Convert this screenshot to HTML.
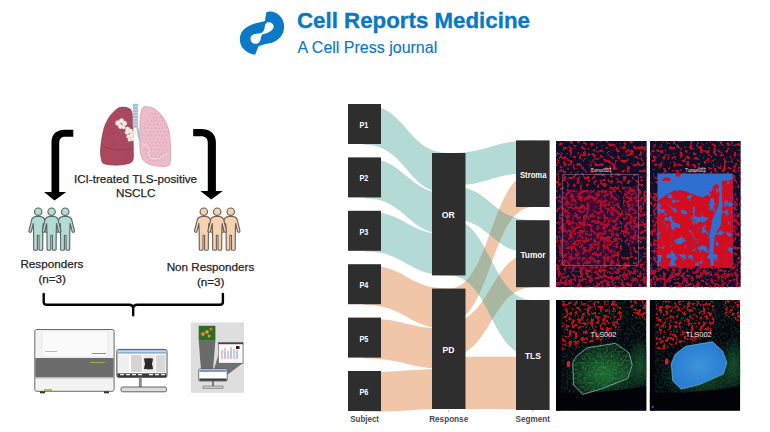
<!DOCTYPE html>
<html><head><meta charset="utf-8">
<style>
html,body{margin:0;padding:0;background:#fff;}
body{width:770px;height:432px;overflow:hidden;position:relative;font-family:"Liberation Sans",sans-serif;}
svg{position:absolute;left:0;top:0;}
.bl{font-family:"Liberation Sans",sans-serif;font-weight:bold;font-size:9px;fill:#fff;text-anchor:middle;}
.ax{font-family:"Liberation Sans",sans-serif;font-weight:bold;font-size:8.8px;fill:#4a4a4a;text-anchor:middle;}
.lab{font-family:"Liberation Sans",sans-serif;fill:#e8e8e8;text-anchor:middle;}
.t{font-family:"Liberation Sans",sans-serif;fill:#262626;stroke:#262626;stroke-width:0.25px;text-anchor:middle;}
</style></head><body>
<svg width="770" height="432" viewBox="0 0 770 432">
<!-- header -->
<path fill="#0b7ac6" fill-rule="evenodd" d="M266.3,12.4 C269,10.6 276,11 281.1,17.3 C284.5,21.5 284.6,28 283.4,31.7 C281.5,37.5 276,41.5 271.8,42.7 C267,44 262,44.5 258.5,46.2 L255.1,54.8 C251,54.5 244,51 241.6,46.2 C239,41.5 239.3,34.5 242.9,30.5 C246,26.5 252,24 259.1,22.5 L264.9,21 Z
M267.2,22.5 C271,21.8 274,24 273.6,27.1 C273.2,30.5 268.5,33 263.8,34 C261,34.6 261.5,36 260.9,38 C260.5,41.5 258.5,43.8 255.5,43.8 C252.5,43.8 250.2,41.5 250.5,38.1 C250.8,35 254,33.8 259.1,33.4 C262,33 264,31.5 264.5,28.5 C264.8,25 265.2,23 267.2,22.5 Z"/>
<text x="297" y="28" style="font-family:'Liberation Sans',sans-serif;font-weight:bold;font-size:22.3px;fill:#0b78c4;stroke:#0b78c4;stroke-width:0.35px">Cell Reports Medicine</text>
<text x="297.6" y="52.7" style="font-family:'Liberation Sans',sans-serif;font-size:16px;fill:#0b78c4;stroke:#0b78c4;stroke-width:0.15px">A Cell Press journal</text>

<!-- lungs -->
<g>
<path d="M120.8,107.3 C125.5,106.6 129.5,108 131.3,110.4 C132.5,113 132.8,118 132.9,126 L133.2,140 L133.4,157.3 C133.2,160.5 132,162.5 129.7,163.2 C123,165 117,165.4 112.4,165 C107,164.6 103.5,164 102.2,162.5 C100.8,158 100.4,154 100.5,150 C100.8,145 101.5,140 102.4,135 C103.8,128.5 105.2,124 106.8,121.5 C108.8,117.5 111.2,114 113.8,111.8 C116,109.5 118.3,107.8 120.8,107.3 Z" fill="#a9485e" stroke="#943c52" stroke-width="0.7"/>
<circle cx="122.4" cy="130.3" r="0.6" fill="#8e3a50" opacity="0.7"/><circle cx="123.2" cy="150.4" r="0.6" fill="#8e3a50" opacity="0.7"/><circle cx="109.5" cy="135.7" r="0.6" fill="#8e3a50" opacity="0.7"/><circle cx="119.8" cy="128.6" r="0.6" fill="#8e3a50" opacity="0.7"/><circle cx="112.9" cy="128.3" r="0.6" fill="#8e3a50" opacity="0.7"/><circle cx="113.1" cy="143.0" r="0.6" fill="#8e3a50" opacity="0.7"/><circle cx="111.0" cy="131.6" r="0.6" fill="#8e3a50" opacity="0.7"/><circle cx="119.1" cy="150.2" r="0.6" fill="#8e3a50" opacity="0.7"/><circle cx="111.3" cy="123.6" r="0.6" fill="#8e3a50" opacity="0.7"/><circle cx="126.1" cy="124.4" r="0.6" fill="#8e3a50" opacity="0.7"/><circle cx="107.6" cy="134.6" r="0.6" fill="#8e3a50" opacity="0.7"/><circle cx="111.7" cy="129.4" r="0.6" fill="#8e3a50" opacity="0.7"/><circle cx="127.0" cy="134.8" r="0.6" fill="#8e3a50" opacity="0.7"/><circle cx="112.1" cy="145.8" r="0.6" fill="#8e3a50" opacity="0.7"/><circle cx="128.5" cy="135.5" r="0.6" fill="#8e3a50" opacity="0.7"/><circle cx="117.9" cy="121.9" r="0.6" fill="#8e3a50" opacity="0.7"/><circle cx="126.2" cy="155.6" r="0.6" fill="#8e3a50" opacity="0.7"/><circle cx="107.5" cy="126.5" r="0.6" fill="#8e3a50" opacity="0.7"/><circle cx="126.2" cy="145.4" r="0.6" fill="#8e3a50" opacity="0.7"/><circle cx="126.2" cy="130.0" r="0.6" fill="#8e3a50" opacity="0.7"/><circle cx="125.8" cy="126.1" r="0.6" fill="#8e3a50" opacity="0.7"/><circle cx="112.4" cy="133.7" r="0.6" fill="#8e3a50" opacity="0.7"/><circle cx="114.6" cy="133.3" r="0.6" fill="#8e3a50" opacity="0.7"/><circle cx="115.0" cy="161.4" r="0.6" fill="#8e3a50" opacity="0.7"/><circle cx="124.4" cy="155.5" r="0.6" fill="#8e3a50" opacity="0.7"/>
<path d="M103.5,146 C110,150 120,151 132.5,148" fill="none" stroke="#8a3348" stroke-width="0.6" opacity="0.7"/>
<path d="M118,112 C122,118 127,122 132,124" fill="none" stroke="#c0657a" stroke-width="0.5" opacity="0.6"/>
<path d="M144.7,106.5 C148,106.8 150.8,107.3 152.8,108.1 C156,109.8 158.8,112 160.9,114.6 C163.8,118 165.8,121.5 167.4,125.9 C168.8,130 169.5,133.5 169.8,137.3 C170.4,143 170.7,148 170.7,153.5 C170.7,158 170.4,161.5 169.8,164.8 C167.5,166.2 165,166.6 162.6,166.5 C158.5,166.3 154.8,165.8 151.2,164.8 C148,163.8 145.2,162.2 143.1,160 C141.2,157 140.3,153 139.9,148.6 C139.6,140 139.7,132 139.9,124.3 C140.1,118.5 140.6,113.5 141.5,109.7 C142.3,107.8 143.3,106.7 144.7,106.5 Z" fill="#edbccb" stroke="#d99aae" stroke-width="0.8"/>
<circle cx="151.8" cy="113.3" r="0.65" fill="#d995ab"/><circle cx="155.1" cy="113.9" r="0.65" fill="#d995ab"/><circle cx="158.9" cy="113.4" r="0.65" fill="#d995ab"/><circle cx="149.6" cy="116.9" r="0.65" fill="#d995ab"/><circle cx="153.4" cy="117.3" r="0.65" fill="#d995ab"/><circle cx="156.9" cy="117.3" r="0.65" fill="#d995ab"/><circle cx="160.9" cy="117.0" r="0.65" fill="#d995ab"/><circle cx="147.7" cy="121.0" r="0.65" fill="#d995ab"/><circle cx="151.6" cy="120.9" r="0.65" fill="#d995ab"/><circle cx="155.1" cy="120.4" r="0.65" fill="#d995ab"/><circle cx="158.9" cy="121.2" r="0.65" fill="#d995ab"/><circle cx="162.6" cy="121.0" r="0.65" fill="#d995ab"/><circle cx="145.8" cy="124.8" r="0.65" fill="#d995ab"/><circle cx="149.6" cy="124.3" r="0.65" fill="#d995ab"/><circle cx="153.7" cy="124.7" r="0.65" fill="#d995ab"/><circle cx="157.2" cy="124.7" r="0.65" fill="#d995ab"/><circle cx="161.0" cy="124.2" r="0.65" fill="#d995ab"/><circle cx="164.6" cy="124.1" r="0.65" fill="#d995ab"/><circle cx="144.7" cy="128.0" r="0.65" fill="#d995ab"/><circle cx="148.0" cy="127.8" r="0.65" fill="#d995ab"/><circle cx="151.8" cy="128.3" r="0.65" fill="#d995ab"/><circle cx="155.4" cy="127.9" r="0.65" fill="#d995ab"/><circle cx="158.8" cy="128.3" r="0.65" fill="#d995ab"/><circle cx="162.5" cy="128.0" r="0.65" fill="#d995ab"/><circle cx="166.8" cy="127.7" r="0.65" fill="#d995ab"/><circle cx="146.0" cy="131.6" r="0.65" fill="#d995ab"/><circle cx="150.3" cy="131.9" r="0.65" fill="#d995ab"/><circle cx="154.0" cy="131.6" r="0.65" fill="#d995ab"/><circle cx="157.3" cy="131.8" r="0.65" fill="#d995ab"/><circle cx="161.0" cy="131.4" r="0.65" fill="#d995ab"/><circle cx="164.6" cy="131.3" r="0.65" fill="#d995ab"/><circle cx="168.3" cy="132.0" r="0.65" fill="#d995ab"/><circle cx="144.0" cy="135.0" r="0.65" fill="#d995ab"/><circle cx="148.3" cy="135.5" r="0.65" fill="#d995ab"/><circle cx="151.6" cy="135.4" r="0.65" fill="#d995ab"/><circle cx="155.7" cy="135.4" r="0.65" fill="#d995ab"/><circle cx="159.3" cy="135.4" r="0.65" fill="#d995ab"/><circle cx="162.7" cy="135.4" r="0.65" fill="#d995ab"/><circle cx="166.4" cy="135.2" r="0.65" fill="#d995ab"/><circle cx="146.0" cy="138.9" r="0.65" fill="#d995ab"/><circle cx="149.9" cy="139.1" r="0.65" fill="#d995ab"/><circle cx="153.7" cy="139.0" r="0.65" fill="#d995ab"/><circle cx="157.2" cy="138.9" r="0.65" fill="#d995ab"/><circle cx="161.2" cy="139.1" r="0.65" fill="#d995ab"/><circle cx="164.6" cy="139.1" r="0.65" fill="#d995ab"/><circle cx="144.1" cy="142.7" r="0.65" fill="#d995ab"/><circle cx="148.4" cy="142.4" r="0.65" fill="#d995ab"/><circle cx="151.9" cy="142.6" r="0.65" fill="#d995ab"/><circle cx="155.6" cy="142.1" r="0.65" fill="#d995ab"/><circle cx="159.4" cy="142.5" r="0.65" fill="#d995ab"/><circle cx="163.0" cy="142.3" r="0.65" fill="#d995ab"/><circle cx="166.6" cy="142.6" r="0.65" fill="#d995ab"/><circle cx="146.3" cy="145.6" r="0.65" fill="#d995ab"/><circle cx="149.9" cy="145.8" r="0.65" fill="#d995ab"/><circle cx="153.2" cy="145.7" r="0.65" fill="#d995ab"/><circle cx="157.2" cy="145.7" r="0.65" fill="#d995ab"/><circle cx="160.8" cy="145.6" r="0.65" fill="#d995ab"/><circle cx="164.7" cy="145.9" r="0.65" fill="#d995ab"/><circle cx="144.2" cy="149.5" r="0.65" fill="#d995ab"/><circle cx="147.7" cy="149.9" r="0.65" fill="#d995ab"/><circle cx="151.6" cy="149.2" r="0.65" fill="#d995ab"/><circle cx="155.5" cy="149.3" r="0.65" fill="#d995ab"/><circle cx="159.2" cy="149.5" r="0.65" fill="#d995ab"/><circle cx="162.9" cy="150.0" r="0.65" fill="#d995ab"/><circle cx="166.8" cy="149.5" r="0.65" fill="#d995ab"/><circle cx="146.3" cy="153.1" r="0.65" fill="#d995ab"/><circle cx="150.2" cy="152.8" r="0.65" fill="#d995ab"/><circle cx="153.3" cy="153.3" r="0.65" fill="#d995ab"/><circle cx="157.4" cy="152.9" r="0.65" fill="#d995ab"/><circle cx="161.1" cy="153.5" r="0.65" fill="#d995ab"/><circle cx="164.6" cy="153.1" r="0.65" fill="#d995ab"/><circle cx="148.4" cy="156.8" r="0.65" fill="#d995ab"/><circle cx="151.7" cy="156.7" r="0.65" fill="#d995ab"/><circle cx="155.8" cy="156.8" r="0.65" fill="#d995ab"/><circle cx="159.0" cy="156.8" r="0.65" fill="#d995ab"/><circle cx="162.5" cy="156.9" r="0.65" fill="#d995ab"/><circle cx="150.3" cy="160.2" r="0.65" fill="#d995ab"/><circle cx="153.7" cy="160.4" r="0.65" fill="#d995ab"/><circle cx="157.4" cy="160.5" r="0.65" fill="#d995ab"/><circle cx="161.2" cy="160.1" r="0.65" fill="#d995ab"/>
<path d="M142.8,143.5 C146,145 149.5,147 149.4,149.5 C149,152 148.3,154 149.2,156.5 C150.5,159 155,159.3 158.5,158.5 C162,157.5 165,155.5 166.6,153" fill="none" stroke="#f8e6ec" stroke-width="0.8"/>
<rect x="132.8" y="103.8" width="5.3" height="24" fill="#a8bfd8"/>
<path d="M132.8,106.5 h5.3 M132.8,109.5 h5.3 M132.8,112.5 h5.3 M132.8,115.5 h5.3 M132.8,118.5 h5.3 M132.8,121.5 h5.3 M132.8,124.5 h5.3" stroke="#d8e4ef" stroke-width="0.6"/>
<path d="M137.5,127.5 C137.8,133 138.5,137 140.5,141" fill="none" stroke="#a8bfd8" stroke-width="2"/>
<circle cx="118" cy="123" r="2.6" fill="#f3efe4" stroke="#d9d2bf" stroke-width="0.35"/><circle cx="121.5" cy="120.8" r="2.3" fill="#f3efe4" stroke="#d9d2bf" stroke-width="0.35"/><circle cx="124.5" cy="123.5" r="2.4" fill="#f3efe4" stroke="#d9d2bf" stroke-width="0.35"/><circle cx="120.5" cy="126.5" r="2.2" fill="#f3efe4" stroke="#d9d2bf" stroke-width="0.35"/><circle cx="123.5" cy="127.2" r="1.8" fill="#f3efe4" stroke="#d9d2bf" stroke-width="0.35"/><circle cx="127.5" cy="129" r="2.2" fill="#f3efe4" stroke="#d9d2bf" stroke-width="0.35"/><circle cx="130.5" cy="131" r="2.3" fill="#f3efe4" stroke="#d9d2bf" stroke-width="0.35"/><circle cx="127" cy="132.5" r="2.1" fill="#f3efe4" stroke="#d9d2bf" stroke-width="0.35"/><circle cx="131.5" cy="135.5" r="2.4" fill="#f3efe4" stroke="#d9d2bf" stroke-width="0.35"/><circle cx="128.5" cy="136.5" r="2" fill="#f3efe4" stroke="#d9d2bf" stroke-width="0.35"/><circle cx="132.5" cy="139" r="2.1" fill="#f3efe4" stroke="#d9d2bf" stroke-width="0.35"/><circle cx="129.5" cy="139.8" r="1.7" fill="#f3efe4" stroke="#d9d2bf" stroke-width="0.35"/><circle cx="134" cy="132.5" r="1.8" fill="#f3efe4" stroke="#d9d2bf" stroke-width="0.35"/>
</g>

<!-- arrows -->
<path d="M73.3,129.8 L65,129.8 C57,129.8 51.5,134 51.5,142 L51.5,192 L44,192 L54.5,200.5 L66.2,192 L59.2,192 L59.2,143 C59.2,139 61,136.7 65,136.7 L73.3,136.7 Z" fill="#000"/>
<path d="M193.2,129 L201,129 C209.5,129 215.9,133.5 215.9,142 L215.9,191 L222.8,191 L211.3,199.5 L200.4,191 L207.8,191 L207.8,142.5 C207.8,138.5 205.5,136.2 201,136.2 L193.2,136.2 Z" fill="#000"/>

<text x="135.5" y="183.3" class="t" style="font-size:11.7px">ICI-treated TLS-positive</text>
<text x="135.7" y="197.4" class="t" style="font-size:11.7px">NSCLC</text>
<text x="51.9" y="268.3" class="t" style="font-size:11.7px">Responders</text>
<text x="52.2" y="282.6" class="t" style="font-size:11.7px">(n=3)</text>
<text x="210.5" y="271" class="t" style="font-size:11.7px">Non Responders</text>
<text x="210.7" y="285.5" class="t" style="font-size:11.7px">(n=3)</text>

<path d="M36.6,216.4 L39.8,216.4 C41.7,216.6 43.8,217.2 44.6,219.4 L47.4,230.4 C47.7,231.8 46.8,232.6 45.8,232.2 C45.3,232 45.1,231.6 45,231.1 L43.1,223.5 L42.8,233.5 L42.7,249.2 C42.7,249.9 42.3,250.2 41.8,250.2 L39.8,250.2 C39.3,250.2 39,249.9 39,249.2 L39,235.2 L37.4,235.2 L37.4,249.2 C37.4,249.9 37.1,250.2 36.6,250.2 L34.6,250.2 C34.1,250.2 33.7,249.9 33.7,249.2 L33.6,233.5 L33.3,223.5 L31.4,231.1 C31.3,231.6 31.1,232 30.6,232.2 C29.6,232.6 28.7,231.8 29,230.4 L31.8,219.4 C32.6,217.2 34.7,216.6 36.6,216.4 Z" fill="#b4dcd6" stroke="#5a6664" stroke-width="1.15" stroke-linejoin="round"/><circle cx="38.2" cy="211.7" r="3.7" fill="#b4dcd6" stroke="#5a6664" stroke-width="1.15"/>
<path d="M63.6,216.4 L66.8,216.4 C68.7,216.6 70.8,217.2 71.6,219.4 L74.4,230.4 C74.7,231.8 73.8,232.6 72.8,232.2 C72.3,232 72.1,231.6 72,231.1 L70.1,223.5 L69.8,233.5 L69.7,249.2 C69.7,249.9 69.3,250.2 68.8,250.2 L66.8,250.2 C66.3,250.2 66,249.9 66,249.2 L66,235.2 L64.4,235.2 L64.4,249.2 C64.4,249.9 64.1,250.2 63.6,250.2 L61.6,250.2 C61.1,250.2 60.7,249.9 60.7,249.2 L60.6,233.5 L60.3,223.5 L58.4,231.1 C58.3,231.6 58.1,232 57.6,232.2 C56.6,232.6 55.7,231.8 56,230.4 L58.8,219.4 C59.6,217.2 61.7,216.6 63.6,216.4 Z" fill="#b4dcd6" stroke="#5a6664" stroke-width="1.15" stroke-linejoin="round"/><circle cx="65.2" cy="211.7" r="3.7" fill="#b4dcd6" stroke="#5a6664" stroke-width="1.15"/>
<path d="M50,216.4 L53.2,216.4 C55.1,216.6 57.2,217.2 58,219.4 L60.8,230.4 C61.1,231.8 60.2,232.6 59.2,232.2 C58.7,232 58.5,231.6 58.4,231.1 L56.5,223.5 L56.2,233.5 L56.1,249.2 C56.1,249.9 55.7,250.2 55.2,250.2 L53.2,250.2 C52.7,250.2 52.4,249.9 52.4,249.2 L52.4,235.2 L50.8,235.2 L50.8,249.2 C50.8,249.9 50.5,250.2 50,250.2 L48,250.2 C47.5,250.2 47.1,249.9 47.1,249.2 L47,233.5 L46.7,223.5 L44.8,231.1 C44.7,231.6 44.5,232 44,232.2 C43,232.6 42.1,231.8 42.4,230.4 L45.2,219.4 C46,217.2 48.1,216.6 50,216.4 Z" fill="#b4dcd6" stroke="#5a6664" stroke-width="1.15" stroke-linejoin="round"/><circle cx="51.6" cy="211.7" r="3.7" fill="#b4dcd6" stroke="#5a6664" stroke-width="1.15"/>
<path d="M202.2,216.4 L205.4,216.4 C207.3,216.6 209.4,217.2 210.2,219.4 L213,230.4 C213.3,231.8 212.4,232.6 211.4,232.2 C210.9,232 210.7,231.6 210.6,231.1 L208.7,223.5 L208.4,233.5 L208.3,249.2 C208.3,249.9 207.9,250.2 207.4,250.2 L205.4,250.2 C204.9,250.2 204.6,249.9 204.6,249.2 L204.6,235.2 L203,235.2 L203,249.2 C203,249.9 202.7,250.2 202.2,250.2 L200.2,250.2 C199.7,250.2 199.3,249.9 199.3,249.2 L199.2,233.5 L198.9,223.5 L197,231.1 C196.9,231.6 196.7,232 196.2,232.2 C195.2,232.6 194.3,231.8 194.6,230.4 L197.4,219.4 C198.2,217.2 200.3,216.6 202.2,216.4 Z" fill="#f6d2b2" stroke="#6e6258" stroke-width="1.15" stroke-linejoin="round"/><circle cx="203.8" cy="211.7" r="3.7" fill="#f6d2b2" stroke="#6e6258" stroke-width="1.15"/>
<path d="M229.1,216.4 L232.3,216.4 C234.2,216.6 236.3,217.2 237.1,219.4 L239.9,230.4 C240.2,231.8 239.3,232.6 238.3,232.2 C237.8,232 237.6,231.6 237.5,231.1 L235.6,223.5 L235.3,233.5 L235.2,249.2 C235.2,249.9 234.8,250.2 234.3,250.2 L232.3,250.2 C231.8,250.2 231.5,249.9 231.5,249.2 L231.5,235.2 L229.9,235.2 L229.9,249.2 C229.9,249.9 229.6,250.2 229.1,250.2 L227.1,250.2 C226.6,250.2 226.2,249.9 226.2,249.2 L226.1,233.5 L225.8,223.5 L223.9,231.1 C223.8,231.6 223.6,232 223.1,232.2 C222.1,232.6 221.2,231.8 221.5,230.4 L224.3,219.4 C225.1,217.2 227.2,216.6 229.1,216.4 Z" fill="#f6d2b2" stroke="#6e6258" stroke-width="1.15" stroke-linejoin="round"/><circle cx="230.7" cy="211.7" r="3.7" fill="#f6d2b2" stroke="#6e6258" stroke-width="1.15"/>
<path d="M215.6,216.4 L218.8,216.4 C220.7,216.6 222.8,217.2 223.6,219.4 L226.4,230.4 C226.7,231.8 225.8,232.6 224.8,232.2 C224.3,232 224.1,231.6 224,231.1 L222.1,223.5 L221.8,233.5 L221.7,249.2 C221.7,249.9 221.3,250.2 220.8,250.2 L218.8,250.2 C218.3,250.2 218,249.9 218,249.2 L218,235.2 L216.4,235.2 L216.4,249.2 C216.4,249.9 216.1,250.2 215.6,250.2 L213.6,250.2 C213.1,250.2 212.7,249.9 212.7,249.2 L212.6,233.5 L212.3,223.5 L210.4,231.1 C210.3,231.6 210.1,232 209.6,232.2 C208.6,232.6 207.7,231.8 208,230.4 L210.8,219.4 C211.6,217.2 213.7,216.6 215.6,216.4 Z" fill="#f6d2b2" stroke="#6e6258" stroke-width="1.15" stroke-linejoin="round"/><circle cx="217.2" cy="211.7" r="3.7" fill="#f6d2b2" stroke="#6e6258" stroke-width="1.15"/>

<!-- bracket -->
<path d="M43.7,294 L43.7,302 C43.7,304 44.7,304.7 46.7,304.7 L129,304.7 C131.5,304.7 133.2,306 133.2,308.5 L133.2,315.3 M133.2,308.5 C133.2,306 135,304.7 137.4,304.7 L220,304.7 C222,304.7 222.9,304 222.9,302 L222.9,294" fill="none" stroke="#000" stroke-width="2.4" stroke-linecap="round" stroke-linejoin="round"/>

<!-- machine -->
<g>
<rect x="34.8" y="329.5" width="79.3" height="61.8" rx="2" fill="#f3f3f3" stroke="#6a6a6a" stroke-width="1"/>
<rect x="42" y="331" width="66" height="26" fill="#fafafa" stroke="#d8d8d8" stroke-width="0.5"/>
<rect x="35.3" y="358" width="78.3" height="19.4" fill="#6c6c6c"/>
<rect x="35.3" y="377.4" width="78.3" height="1.2" fill="#bdbdbd"/>
<rect x="92" y="353" width="14" height="1" fill="#8aa04a"/>
<rect x="90" y="362" width="15" height="1" fill="#9ab050"/>
<rect x="45" y="351" width="12" height="1" fill="#b8b8b8"/>
<rect x="44" y="389" width="8" height="2" fill="#a8c040"/>
<rect x="40" y="391.3" width="5" height="2" fill="#333"/>
<rect x="104" y="391.3" width="5" height="2" fill="#333"/>
</g>
<!-- monitor -->
<g>
<rect x="116.8" y="349.4" width="50.2" height="28" rx="2" fill="#fff" stroke="#555" stroke-width="1"/>
<rect x="117.8" y="350.6" width="48.4" height="22.8" fill="none" stroke="#8fb0d4" stroke-width="0.8"/><rect x="118" y="351.5" width="48" height="2.2" fill="#8fb0d4"/>
<rect x="119" y="355" width="10" height="17" fill="#f0f0f0"/>
<rect x="131" y="355" width="11" height="17" fill="#d4d4d4"/>
<rect x="143" y="355" width="12" height="17" fill="#e8e8e8"/>
<rect x="156" y="355" width="9" height="17" fill="#d8d8d8"/>
<path d="M144,358.5 C146,358 151,358 153,358.5 L152.5,362 C151.8,363 151.8,364.5 152.5,365.5 L153,369 C151,369.5 146,369.5 144,369 L144.5,365.5 C145.2,364.5 145.2,363 144.5,362 Z" fill="#2a2a2a"/>
<rect x="117.3" y="373.5" width="49.2" height="3.6" fill="#3a3a3a"/>
<path d="M120,374.7 h4 M126,374.7 h4 M132,374.7 h4 M138,374.7 h4 M149,374.7 h4 M155,374.7 h4 M161,374.7 h4" stroke="#eee" stroke-width="1.2"/>
<rect x="138.8" y="377.5" width="3" height="10" fill="#8a8a8a"/>
<rect x="121" y="387" width="45.5" height="4.8" rx="1.5" fill="#dcdcdc" stroke="#555" stroke-width="0.9"/>
</g>
<!-- microscope software illustration -->
<g>
<rect x="190.8" y="322.5" width="53.2" height="70.3" fill="#dedede"/>
<path d="M198.7,340.6 L215.4,340.6 L213,370 L201,370 Z" fill="#6a6a6a"/>
<path d="M218.4,355 L243,363 L227,375 L213,372 Z" fill="#707070"/>
<rect x="198.7" y="325.8" width="16.7" height="14.8" fill="#2e6a2a"/>
<circle cx="203" cy="334" r="2" fill="#e08a30"/><circle cx="207" cy="332" r="1.8" fill="#e8a040"/><circle cx="211" cy="329" r="1.6" fill="#d07a28"/><circle cx="209" cy="336" r="1.5" fill="#e09838"/>
<rect x="218.4" y="342.6" width="24.6" height="20.6" fill="#fafafa" stroke="#555" stroke-width="0.6"/>
<rect x="218.4" y="342.6" width="24.6" height="1.6" fill="#444"/>
<path d="M222,350 v9 M225,348 v11 M228,351 v8 M231,347 v12 M234,349 v10 M237,350 v9" stroke-width="1.6" stroke="#e8b0c8"/>
<path d="M225,352 v6 M231,350 v7 M237,352 v6" stroke-width="1.6" stroke="#9ad0e8"/>
<rect x="236" y="346" width="3.5" height="3" fill="#222"/>
<rect x="198.7" y="369" width="28.5" height="12" rx="1" fill="#fff" stroke="#555" stroke-width="0.8"/>
<rect x="199.5" y="370" width="27" height="2" fill="#7a9cc4"/>
<rect x="199.5" y="378.5" width="27" height="2.3" fill="#3a3a3a"/>
<rect x="212" y="381" width="2" height="5.5" fill="#777"/>
<rect x="203" y="386" width="20" height="2.2" fill="#ccc" stroke="#555" stroke-width="0.5"/>
</g>

<!-- sankey -->
<path d="M364.5,104.8 C406.6,104.8 406.6,153 448.8,153 L448.8,193.8 C406.6,193.8 406.6,144.8 364.5,144.8 Z" fill="rgba(58,158,147,0.38)"/>
<path d="M364.5,158.2 C406.6,158.2 406.6,193.8 448.8,193.8 L448.8,234.6 C406.6,234.6 406.6,198.2 364.5,198.2 Z" fill="rgba(58,158,147,0.38)"/>
<path d="M364.5,211.6 C406.6,211.6 406.6,234.6 448.8,234.6 L448.8,275.4 C406.6,275.4 406.6,251.6 364.5,251.6 Z" fill="rgba(58,158,147,0.38)"/>
<path d="M364.5,265 C406.6,265 406.6,288.6 448.8,288.6 L448.8,328.7 C406.6,328.7 406.6,305 364.5,305 Z" fill="rgba(227,141,81,0.5)"/>
<path d="M364.5,318.4 C406.6,318.4 406.6,328.7 448.8,328.7 L448.8,368.9 C406.6,368.9 406.6,358.4 364.5,358.4 Z" fill="rgba(227,141,81,0.5)"/>
<path d="M364.5,371.8 C406.6,371.8 406.6,368.9 448.8,368.9 L448.8,409 C406.6,409 406.6,411.8 364.5,411.8 Z" fill="rgba(227,141,81,0.5)"/>
<path d="M448.8,288.6 C490.8,288.6 490.8,172.9 532.8,172.9 L532.8,207 C490.8,207 490.8,322.7 448.8,322.7 Z" fill="rgba(227,141,81,0.5)"/>
<path d="M448.8,322.7 C490.8,322.7 490.8,253.2 532.8,253.2 L532.8,287.2 C490.8,287.2 490.8,356.7 448.8,356.7 Z" fill="rgba(227,141,81,0.5)"/>
<path d="M448.8,356.7 C490.8,356.7 490.8,356.9 532.8,356.9 L532.8,409.2 C490.8,409.2 490.8,409 448.8,409 Z" fill="rgba(227,141,81,0.5)"/>
<path d="M448.8,153 C490.8,153 490.8,140.4 532.8,140.4 L532.8,172.9 C490.8,172.9 490.8,185.5 448.8,185.5 Z" fill="rgba(58,158,147,0.38)"/>
<path d="M448.8,185.5 C490.8,185.5 490.8,220.2 532.8,220.2 L532.8,253.2 C490.8,253.2 490.8,218.5 448.8,218.5 Z" fill="rgba(58,158,147,0.38)"/>
<path d="M448.8,218.5 C490.8,218.5 490.8,300 532.8,300 L532.8,356.9 C490.8,356.9 490.8,275.4 448.8,275.4 Z" fill="rgba(58,158,147,0.38)"/>
<rect x="348" y="104" width="33" height="40" fill="#2f2e2e"/>
<text x="363.9" y="127.9" class="bl" textLength="8.8" lengthAdjust="spacingAndGlyphs">P1</text>
<rect x="348" y="157.4" width="33" height="40" fill="#2f2e2e"/>
<text x="363.9" y="181.3" class="bl" textLength="8.8" lengthAdjust="spacingAndGlyphs">P2</text>
<rect x="348" y="210.8" width="33" height="40" fill="#2f2e2e"/>
<text x="363.9" y="234.7" class="bl" textLength="8.8" lengthAdjust="spacingAndGlyphs">P3</text>
<rect x="348" y="264.2" width="33" height="40" fill="#2f2e2e"/>
<text x="363.9" y="288.1" class="bl" textLength="8.8" lengthAdjust="spacingAndGlyphs">P4</text>
<rect x="348" y="317.6" width="33" height="40" fill="#2f2e2e"/>
<text x="363.9" y="341.5" class="bl" textLength="8.8" lengthAdjust="spacingAndGlyphs">P5</text>
<rect x="348" y="371" width="33" height="40" fill="#2f2e2e"/>
<text x="363.9" y="394.9" class="bl" textLength="8.8" lengthAdjust="spacingAndGlyphs">P6</text>
<rect x="432" y="153" width="33.5" height="122.4" fill="#2f2e2e"/>
<text x="448.3" y="218.2" class="bl" textLength="13.1" lengthAdjust="spacingAndGlyphs">OR</text>
<rect x="432" y="288.6" width="33.5" height="120.4" fill="#2f2e2e"/>
<text x="448.4" y="352.6" class="bl" textLength="11.9" lengthAdjust="spacingAndGlyphs">PD</text>
<rect x="516" y="140.4" width="33.6" height="66.6" fill="#2f2e2e"/>
<text x="533.2" y="178.2" class="bl" textLength="26.4" lengthAdjust="spacingAndGlyphs">Stroma</text>
<rect x="516" y="220.2" width="33.6" height="67" fill="#2f2e2e"/>
<text x="533" y="257.6" class="bl" textLength="25.2" lengthAdjust="spacingAndGlyphs">Tumor</text>
<rect x="516" y="300" width="33.6" height="110" fill="#2f2e2e"/>
<text x="532.9" y="358.6" class="bl" textLength="15.8" lengthAdjust="spacingAndGlyphs">TLS</text>
<text x="364.6" y="421.6" class="ax" textLength="28.7" lengthAdjust="spacingAndGlyphs">Subject</text>
<text x="448.7" y="421.6" class="ax" textLength="39" lengthAdjust="spacingAndGlyphs">Response</text>
<text x="532.8" y="421.6" class="ax" textLength="34.4" lengthAdjust="spacingAndGlyphs">Segment</text>
<line x1="364.5" y1="410" x2="364.5" y2="412" stroke="#888" stroke-width="0.6"/>
<line x1="448.7" y1="410" x2="448.7" y2="412" stroke="#888" stroke-width="0.6"/>
<line x1="532.8" y1="410" x2="532.8" y2="412" stroke="#888" stroke-width="0.6"/>
<defs><filter id="ts0" filterUnits="userSpaceOnUse" x="556" y="141" width="90.8" height="146.2" color-interpolation-filters="sRGB"><feTurbulence type="fractalNoise" baseFrequency="0.3" numOctaves="2" seed="5"/><feGaussianBlur stdDeviation="0.5"/><feColorMatrix type="matrix" values="0 0 0 0 0.74  0 0 0 0 0.05  0 0 0 0 0.14  14 0 0 0 -7.75"/><feGaussianBlur stdDeviation="0.35"/></filter><filter id="td0" filterUnits="userSpaceOnUse" x="556" y="141" width="90.8" height="146.2" color-interpolation-filters="sRGB"><feTurbulence type="fractalNoise" baseFrequency="0.28" numOctaves="2" seed="8"/><feGaussianBlur stdDeviation="0.5"/><feColorMatrix type="matrix" values="0 0 0 0 0.66  0 0 0 0 0.05  0 0 0 0 0.2  14 0 0 0 -7.6"/><feGaussianBlur stdDeviation="0.35"/></filter><filter id="tb0" filterUnits="userSpaceOnUse" x="556" y="141" width="90.8" height="146.2" color-interpolation-filters="sRGB"><feTurbulence type="fractalNoise" baseFrequency="0.13" numOctaves="3" seed="40"/><feGaussianBlur stdDeviation="0.5"/><feColorMatrix type="matrix" values="0 0 0 0 0.82  0 0 0 0 0.05  0 0 0 0 0.12  12 0 0 0 -4.2"/><feGaussianBlur stdDeviation="0.35"/></filter><clipPath id="cp0"><rect x="556" y="141" width="90.8" height="146.2"/></clipPath><clipPath id="cd0"><polygon points="559,193 576,189 596,192 614,188 620,199 619,231 616,265 586,269 559,265"/><polygon points="624,188 638,185 644,199 642,241 628,247 623,221"/><polygon points="556,267 647,261 647,287 556,287"/></clipPath><filter id="ts1" filterUnits="userSpaceOnUse" x="650" y="141" width="90.8" height="146.2" color-interpolation-filters="sRGB"><feTurbulence type="fractalNoise" baseFrequency="0.3" numOctaves="2" seed="6"/><feGaussianBlur stdDeviation="0.5"/><feColorMatrix type="matrix" values="0 0 0 0 0.74  0 0 0 0 0.05  0 0 0 0 0.14  14 0 0 0 -7.75"/><feGaussianBlur stdDeviation="0.35"/></filter><filter id="td1" filterUnits="userSpaceOnUse" x="650" y="141" width="90.8" height="146.2" color-interpolation-filters="sRGB"><feTurbulence type="fractalNoise" baseFrequency="0.28" numOctaves="2" seed="9"/><feGaussianBlur stdDeviation="0.5"/><feColorMatrix type="matrix" values="0 0 0 0 0.66  0 0 0 0 0.05  0 0 0 0 0.2  14 0 0 0 -7.6"/><feGaussianBlur stdDeviation="0.35"/></filter><filter id="tb1" filterUnits="userSpaceOnUse" x="650" y="141" width="90.8" height="146.2" color-interpolation-filters="sRGB"><feTurbulence type="fractalNoise" baseFrequency="0.13" numOctaves="3" seed="41"/><feGaussianBlur stdDeviation="0.5"/><feColorMatrix type="matrix" values="0 0 0 0 0.82  0 0 0 0 0.05  0 0 0 0 0.12  12 0 0 0 -4.2"/><feGaussianBlur stdDeviation="0.35"/></filter><clipPath id="cp1"><rect x="650" y="141" width="90.8" height="146.2"/></clipPath><clipPath id="cd1"><polygon points="653,193 670,189 690,192 708,188 714,199 713,231 710,265 680,269 653,265"/><polygon points="718,188 732,185 738,199 736,241 722,247 717,221"/><polygon points="650,267 741,261 741,287 650,287"/></clipPath><clipPath id="cblob"><polygon points="657.5,201 667.1,194.2 676,189.8 684.9,190.9 692.7,194.2 702.7,197.6 708.2,194.2 713.8,185.3 718.2,183.1 719.8,188.7 718.5,205 713,218 710,232 709.5,250 711,268 657.5,268"/><polygon points="721.5,181 731.6,179.8 732.7,180 732.7,268 714,268 713.5,250 715,234 720.5,226 722.5,205"/><polygon points="661.6,177.6 670.4,177.6 670.4,181 661.6,181"/><polygon points="676,173.5 680.4,173.5 680.4,176.4 676,176.4"/></clipPath><radialGradient id="gh"><stop offset="0" stop-color="#176030" stop-opacity="0.8"/><stop offset="0.6" stop-color="#123f26" stop-opacity="0.55"/><stop offset="1" stop-color="#0e3020" stop-opacity="0"/></radialGradient><radialGradient id="gh2"><stop offset="0" stop-color="#2f9a44" stop-opacity="1"/><stop offset="0.7" stop-color="#1f7034" stop-opacity="0.8"/><stop offset="1" stop-color="#185a2c" stop-opacity="0.6"/></radialGradient><radialGradient id="bh"><stop offset="0" stop-color="#3c94dc"/><stop offset="1" stop-color="#2a7cd0"/></radialGradient><filter id="tr0" filterUnits="userSpaceOnUse" x="556" y="299.9" width="90.5" height="110.8" color-interpolation-filters="sRGB"><feTurbulence type="fractalNoise" baseFrequency="0.32" numOctaves="2" seed="12"/><feGaussianBlur stdDeviation="0.7"/><feColorMatrix type="matrix" values="0 0 0 0 0.78  0 0 0 0 0.05  0 0 0 0 0.1  14 0 0 0 -7.45"/><feGaussianBlur stdDeviation="0.35"/></filter><filter id="tg0" filterUnits="userSpaceOnUse" x="556" y="299.9" width="90.5" height="110.8" color-interpolation-filters="sRGB"><feTurbulence type="fractalNoise" baseFrequency="0.45" numOctaves="2" seed="20"/><feGaussianBlur stdDeviation="0.6"/><feColorMatrix type="matrix" values="0 0 0 0 0.25  0 0 0 0 0.7  0 0 0 0 0.3  14 0 0 0 -7.2"/><feGaussianBlur stdDeviation="0.35"/></filter><filter id="tgs0" filterUnits="userSpaceOnUse" x="556" y="299.9" width="90.5" height="110.8" color-interpolation-filters="sRGB"><feTurbulence type="fractalNoise" baseFrequency="0.45" numOctaves="2" seed="30"/><feGaussianBlur stdDeviation="0.6"/><feColorMatrix type="matrix" values="0 0 0 0 0.15  0 0 0 0 0.5  0 0 0 0 0.3  14 0 0 0 -7.4"/><feGaussianBlur stdDeviation="0.35"/></filter><clipPath id="cq0"><rect x="556" y="299.9" width="90.5" height="110.8"/></clipPath><clipPath id="cr0"><polygon points="562,300.9 620,300.9 622,313.9 619,329.9 612,337.9 600,340.9 586,342.9 572,348.9 562,349.9"/><polygon points="629,299.9 646.5,299.9 646.5,321.9 632,315.9"/></clipPath><filter id="tr1" filterUnits="userSpaceOnUse" x="649.7" y="299.9" width="90.5" height="110.8" color-interpolation-filters="sRGB"><feTurbulence type="fractalNoise" baseFrequency="0.32" numOctaves="2" seed="13"/><feGaussianBlur stdDeviation="0.7"/><feColorMatrix type="matrix" values="0 0 0 0 0.78  0 0 0 0 0.05  0 0 0 0 0.1  14 0 0 0 -7.45"/><feGaussianBlur stdDeviation="0.35"/></filter><filter id="tg1" filterUnits="userSpaceOnUse" x="649.7" y="299.9" width="90.5" height="110.8" color-interpolation-filters="sRGB"><feTurbulence type="fractalNoise" baseFrequency="0.45" numOctaves="2" seed="21"/><feGaussianBlur stdDeviation="0.6"/><feColorMatrix type="matrix" values="0 0 0 0 0.25  0 0 0 0 0.7  0 0 0 0 0.3  14 0 0 0 -7.2"/><feGaussianBlur stdDeviation="0.35"/></filter><filter id="tgs1" filterUnits="userSpaceOnUse" x="649.7" y="299.9" width="90.5" height="110.8" color-interpolation-filters="sRGB"><feTurbulence type="fractalNoise" baseFrequency="0.45" numOctaves="2" seed="31"/><feGaussianBlur stdDeviation="0.6"/><feColorMatrix type="matrix" values="0 0 0 0 0.15  0 0 0 0 0.5  0 0 0 0 0.3  14 0 0 0 -7.4"/><feGaussianBlur stdDeviation="0.35"/></filter><clipPath id="cq1"><rect x="649.7" y="299.9" width="90.5" height="110.8"/></clipPath><clipPath id="cr1"><polygon points="655.7,300.9 713.7,300.9 715.7,313.9 712.7,329.9 705.7,337.9 693.7,340.9 679.7,342.9 665.7,348.9 655.7,349.9"/><polygon points="722.7,299.9 740.2,299.9 740.2,321.9 725.7,315.9"/></clipPath><clipPath id="cg0"><polygon points="587.1,347.8 615.6,343.3 629.2,353 632.2,365 627.7,378.6 600.6,389.1 582.6,394.4 573.5,384.6 572.8,362.1 576.5,356"/></clipPath><clipPath id="cg1"><polygon points="685.6,346.3 712.6,341.8 722.4,350.8 726.9,362.8 723.2,374.1 699.1,384.6 681.1,389.1 672.8,380.9 671.3,363.6 675,354.5"/></clipPath></defs>
<g clip-path="url(#cp0)"><rect x="556" y="141" width="90.8" height="146.2" fill="#110e2a"/><polygon points="559,193 576,189 596,192 614,188 620,199 619,231 616,265 586,269 559,265" fill="#3a0c38" opacity="0.85"/><polygon points="624,188 638,185 644,199 642,241 628,247 623,221" fill="#3a0c38" opacity="0.85"/><rect x="556" y="141" width="90.8" height="146.2" filter="url(#ts0)"/><g clip-path="url(#cd0)"><rect x="556" y="141" width="90.8" height="146.2" filter="url(#td0)"/></g><rect x="562.8" y="174.7" width="75.6" height="90.8" fill="none" stroke="#8a86a8" stroke-width="0.5"/><text x="601" y="172" class="lab" style="font-size:4.5px">Tumor003</text></g>
<g clip-path="url(#cp1)"><rect x="650" y="141" width="90.8" height="146.2" fill="#110e2a"/><polygon points="653,193 670,189 690,192 708,188 714,199 713,231 710,265 680,269 653,265" fill="#3a0c38" opacity="0.85"/><polygon points="718,188 732,185 738,199 736,241 722,247 717,221" fill="#3a0c38" opacity="0.85"/><rect x="650" y="141" width="90.8" height="146.2" filter="url(#ts1)"/><g clip-path="url(#cd1)"><rect x="650" y="141" width="90.8" height="146.2" filter="url(#td1)"/></g><rect x="657.5" y="173.5" width="75.2" height="92.6" fill="#2f6fcf"/><g clip-path="url(#cblob)"><rect x="657.5" y="173.5" width="75.2" height="92.6" filter="url(#tb1)"/></g><text x="695.5" y="172" class="lab" style="font-size:4.5px">Tumor003</text></g>
<g clip-path="url(#cq0)"><rect x="556" y="299.9" width="90.5" height="110.8" fill="#05070f"/><ellipse cx="608" cy="375.9" rx="44" ry="26" fill="url(#gh)"/><ellipse cx="640" cy="363.9" rx="14" ry="28" fill="url(#gh)"/><rect x="556" y="299.9" width="90.5" height="110.8" filter="url(#tgs0)" opacity="0.22"/><g clip-path="url(#cr0)"><rect x="556" y="299.9" width="90.5" height="110.8" filter="url(#tr0)"/></g><path d="M556,391.9 C576,393.9 606,392.9 646.5,385.9 L646.5,410.7 L556,410.7 Z" fill="#020309"/><rect x="556" y="299.9" width="5" height="110.8" fill="#020309" opacity="0.85"/><ellipse cx="568.5" cy="363.9" rx="1.8" ry="3.2" fill="#e01a28"/><polygon points="587.1,347.8 615.6,343.3 629.2,353 632.2,365 627.7,378.6 600.6,389.1 582.6,394.4 573.5,384.6 572.8,362.1 576.5,356" fill="url(#gh2)" opacity="0.45"/><g clip-path="url(#cg0)"><rect x="556" y="299.9" width="90.5" height="110.8" filter="url(#tg0)" opacity="0.25"/></g><polygon points="587.1,347.8 615.6,343.3 629.2,353 632.2,365 627.7,378.6 600.6,389.1 582.6,394.4 573.5,384.6 572.8,362.1 576.5,356" fill="none" stroke="#7ea6a2" stroke-width="0.9"/><text x="603.5" y="337.4" class="lab" style="font-size:7.4px">TLS002</text></g>
<g clip-path="url(#cq1)"><rect x="649.7" y="299.9" width="90.5" height="110.8" fill="#05070f"/><ellipse cx="701.7" cy="375.9" rx="44" ry="26" fill="url(#gh)"/><ellipse cx="733.7" cy="363.9" rx="14" ry="28" fill="url(#gh)"/><rect x="649.7" y="299.9" width="90.5" height="110.8" filter="url(#tgs1)" opacity="0.22"/><g clip-path="url(#cr1)"><rect x="649.7" y="299.9" width="90.5" height="110.8" filter="url(#tr1)"/></g><path d="M649.7,391.9 C669.7,393.9 699.7,392.9 740.2,385.9 L740.2,410.7 L649.7,410.7 Z" fill="#020309"/><rect x="649.7" y="299.9" width="5" height="110.8" fill="#020309" opacity="0.85"/><ellipse cx="666.7" cy="361.4" rx="1.8" ry="3.2" fill="#e01a28"/><polygon points="685.6,346.3 712.6,341.8 722.4,350.8 726.9,362.8 723.2,374.1 699.1,384.6 681.1,389.1 672.8,380.9 671.3,363.6 675,354.5" fill="url(#bh)" stroke="#5ab0d8" stroke-width="0.8"/><circle cx="652.7" cy="406.9" r="1.2" fill="#3050c0"/><text x="698.7" y="337.4" class="lab" style="font-size:7.4px">TLS002</text></g>
</svg>
</body></html>
